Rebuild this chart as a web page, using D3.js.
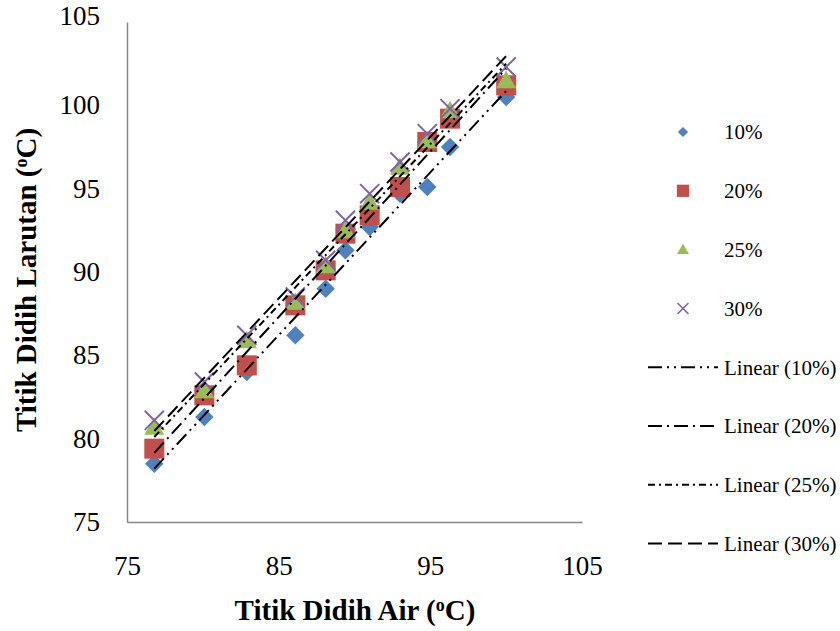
<!DOCTYPE html>
<html>
<head>
<meta charset="utf-8">
<script src="https://cdn.jsdelivr.net/npm/d3@7"></script>
<style>
  body { margin: 0; background: #fff; }
  text { font-family: "Liberation Serif", "Times New Roman", serif; }
</style>
</head>
<body>
<div id="chart"></div>
<script>
// water boiling point (x) and solution boiling points per concentration
var airDidih = [76.8, 80.1, 82.9, 86.1, 88.1, 89.4, 91.0, 93.0, 94.8, 96.3, 100.0];
var seri10 = [78.5, 81.3, 84.0, 86.2, 89.0, 91.3, 92.7, 94.7, 95.1, 97.5, 100.5];
var seri20 = [79.4, 82.6, 84.4, 88.0, 90.1, 92.3, 93.4, 95.1, 97.8, 99.2, 101.2];
var seri25 = [80.7, 82.9, 85.9, 88.2, 90.4, 92.5, 94.2, 96.3, 97.9, 99.7, 101.5];
var seri30 = [81.1, 83.4, 86.2, 88.5, 90.7, 93.1, 94.7, 96.6, 98.3, 99.8, 102.3];
var labels = ["10%", "20%", "25%", "30%"];
var xTicks = [75, 85, 95, 105];
var yTicks = [75, 80, 85, 90, 95, 100, 105];

var series = [
  {name: labels[0], values: seri10, color: "#4F81BD", shape: "diamond", dash: "14,5,2,5,2,5"},
  {name: labels[1], values: seri20, color: "#C0504D", shape: "square", dash: "14,5,2,5"},
  {name: labels[2], values: seri25, color: "#9BBB59", shape: "triangle", dash: "7,4,2,4"},
  {name: labels[3], values: seri30, color: "#8064A2", shape: "x", dash: "14,6"}
];

var W = 840, H = 631;
var margin = {top: 22, left: 127, right: 258, bottom: 109};
var width = W - margin.left - margin.right,
    height = H - margin.top - margin.bottom;

var x = d3.scaleLinear().domain([75, 105]).range([0, width]);
var y = d3.scaleLinear().domain([75, 105]).range([height, 0]);

var svg = d3.select("#chart").append("svg")
    .attr("width", W)
    .attr("height", H);
svg.append("rect").attr("width", W).attr("height", H).attr("fill", "#fff");

var g = svg.append("g")
    .attr("transform", "translate(" + margin.left + "," + margin.top + ")");

// axes
var yAxis = g.append("g")
    .call(d3.axisLeft(y).tickValues(yTicks).tickSize(0).tickPadding(27).tickFormat(d3.format("d")));
var xAxis = g.append("g")
    .attr("transform", "translate(0," + height + ")")
    .call(d3.axisBottom(x).tickValues(xTicks).tickSize(0).tickPadding(34).tickFormat(d3.format("d")));
[xAxis, yAxis].forEach(function(a) {
  a.attr("font-family", null);
  a.select(".domain").attr("stroke", "#868686").attr("stroke-width", 1.5);
  a.selectAll("text").style("font-family", "Liberation Serif, serif").style("font-size", "27px").attr("fill", "#000");
});
// top label sits a little higher, like the original
yAxis.selectAll(".tick text").filter(function(d) { return d == 105; }).attr("dy", "0.1em");

function symbolFor(shape, big) {
  if (shape == "diamond") return d3.symbol(d3.symbolSquare, big ? 170 : 52)();
  if (shape == "square") return d3.symbol(d3.symbolSquare, big ? 400 : 150)();
  if (shape == "triangle") return d3.symbol(d3.symbolTriangle, big ? 175 : 62)();
  return d3.symbol(d3.symbolX, big ? 240 : 80)();
}

function drawMark(sel, s, big) {
  var p = sel.append("path").attr("d", symbolFor(s.shape, big));
  if (s.shape == "x") {
    p.attr("fill", "none").attr("stroke", s.color).attr("stroke-width", big ? 2 : 1.5);
  } else {
    p.attr("fill", s.color);
  }
  if (s.shape == "diamond") p.attr("transform", "rotate(45)");
  if (s.shape == "triangle") p.attr("transform", big ? "translate(0,2)" : "translate(0,1)");
  return p;
}

// markers
series.forEach(function(s) {
  var pts = g.append("g");
  s.values.forEach(function(v, i) {
    var m = pts.append("g").attr("transform", "translate(" + x(airDidih[i]) + "," + y(v) + ")");
    drawMark(m, s, true);
  });
});

// linear trendlines (least squares)
series.forEach(function(s) {
  var mx = d3.mean(airDidih), my = d3.mean(s.values);
  var sxy = d3.sum(airDidih, function(d, i) { return (d - mx) * (s.values[i] - my); });
  var sxx = d3.sum(airDidih, function(d) { return (d - mx) * (d - mx); });
  var b = sxy / sxx, a = my - b * mx;
  var ext = d3.extent(airDidih);
  g.append("path")
    .datum(ext)
    .attr("fill", "none")
    .attr("stroke", "#000")
    .attr("stroke-width", 2)
    .attr("stroke-dasharray", s.dash)
    .attr("d", d3.line().x(function(d) { return x(d); }).y(function(d) { return y(a + b * d); }));
});

// legend
var legend = svg.append("g");
var legY0 = 132, legStep = 58.8;
series.forEach(function(s, i) {
  var row = legend.append("g").attr("transform", "translate(0," + (legY0 + i * legStep) + ")");
  var m = row.append("g").attr("transform", "translate(683,0)");
  drawMark(m, s, false);
  row.append("text").attr("x", 724).attr("y", 0).attr("dy", "0.35em")
    .style("font-size", "21px").text(s.name);
});
series.forEach(function(s, i) {
  var row = legend.append("g").attr("transform", "translate(0," + (legY0 + (i + 4) * legStep) + ")");
  row.append("line").attr("x1", 648).attr("x2", 718).attr("y1", 0).attr("y2", 0)
    .attr("stroke", "#000").attr("stroke-width", 2).attr("stroke-dasharray", s.dash);
  row.append("text").attr("x", 724).attr("y", 0).attr("dy", "0.35em")
    .style("font-size", "21px").text("Linear (" + s.name + ")");
});

// axis titles
var xt = svg.append("text")
    .attr("x", 355).attr("y", 620)
    .attr("text-anchor", "middle")
    .style("font-size", "29px").style("font-weight", "bold")
    .text("Titik Didih Air (");
xt.append("tspan").attr("dy", -9).style("font-size", "18px").text("o");
xt.append("tspan").attr("dy", 9).text("C)");

var yt = svg.append("text")
    .attr("transform", "translate(36,280) rotate(-90)")
    .attr("text-anchor", "middle")
    .style("font-size", "29px").style("font-weight", "bold")
    .text("Titik Didih Larutan (");
yt.append("tspan").attr("dy", -9).style("font-size", "18px").text("o");
yt.append("tspan").attr("dy", 9).text("C)");
</script>
</body>
</html>
